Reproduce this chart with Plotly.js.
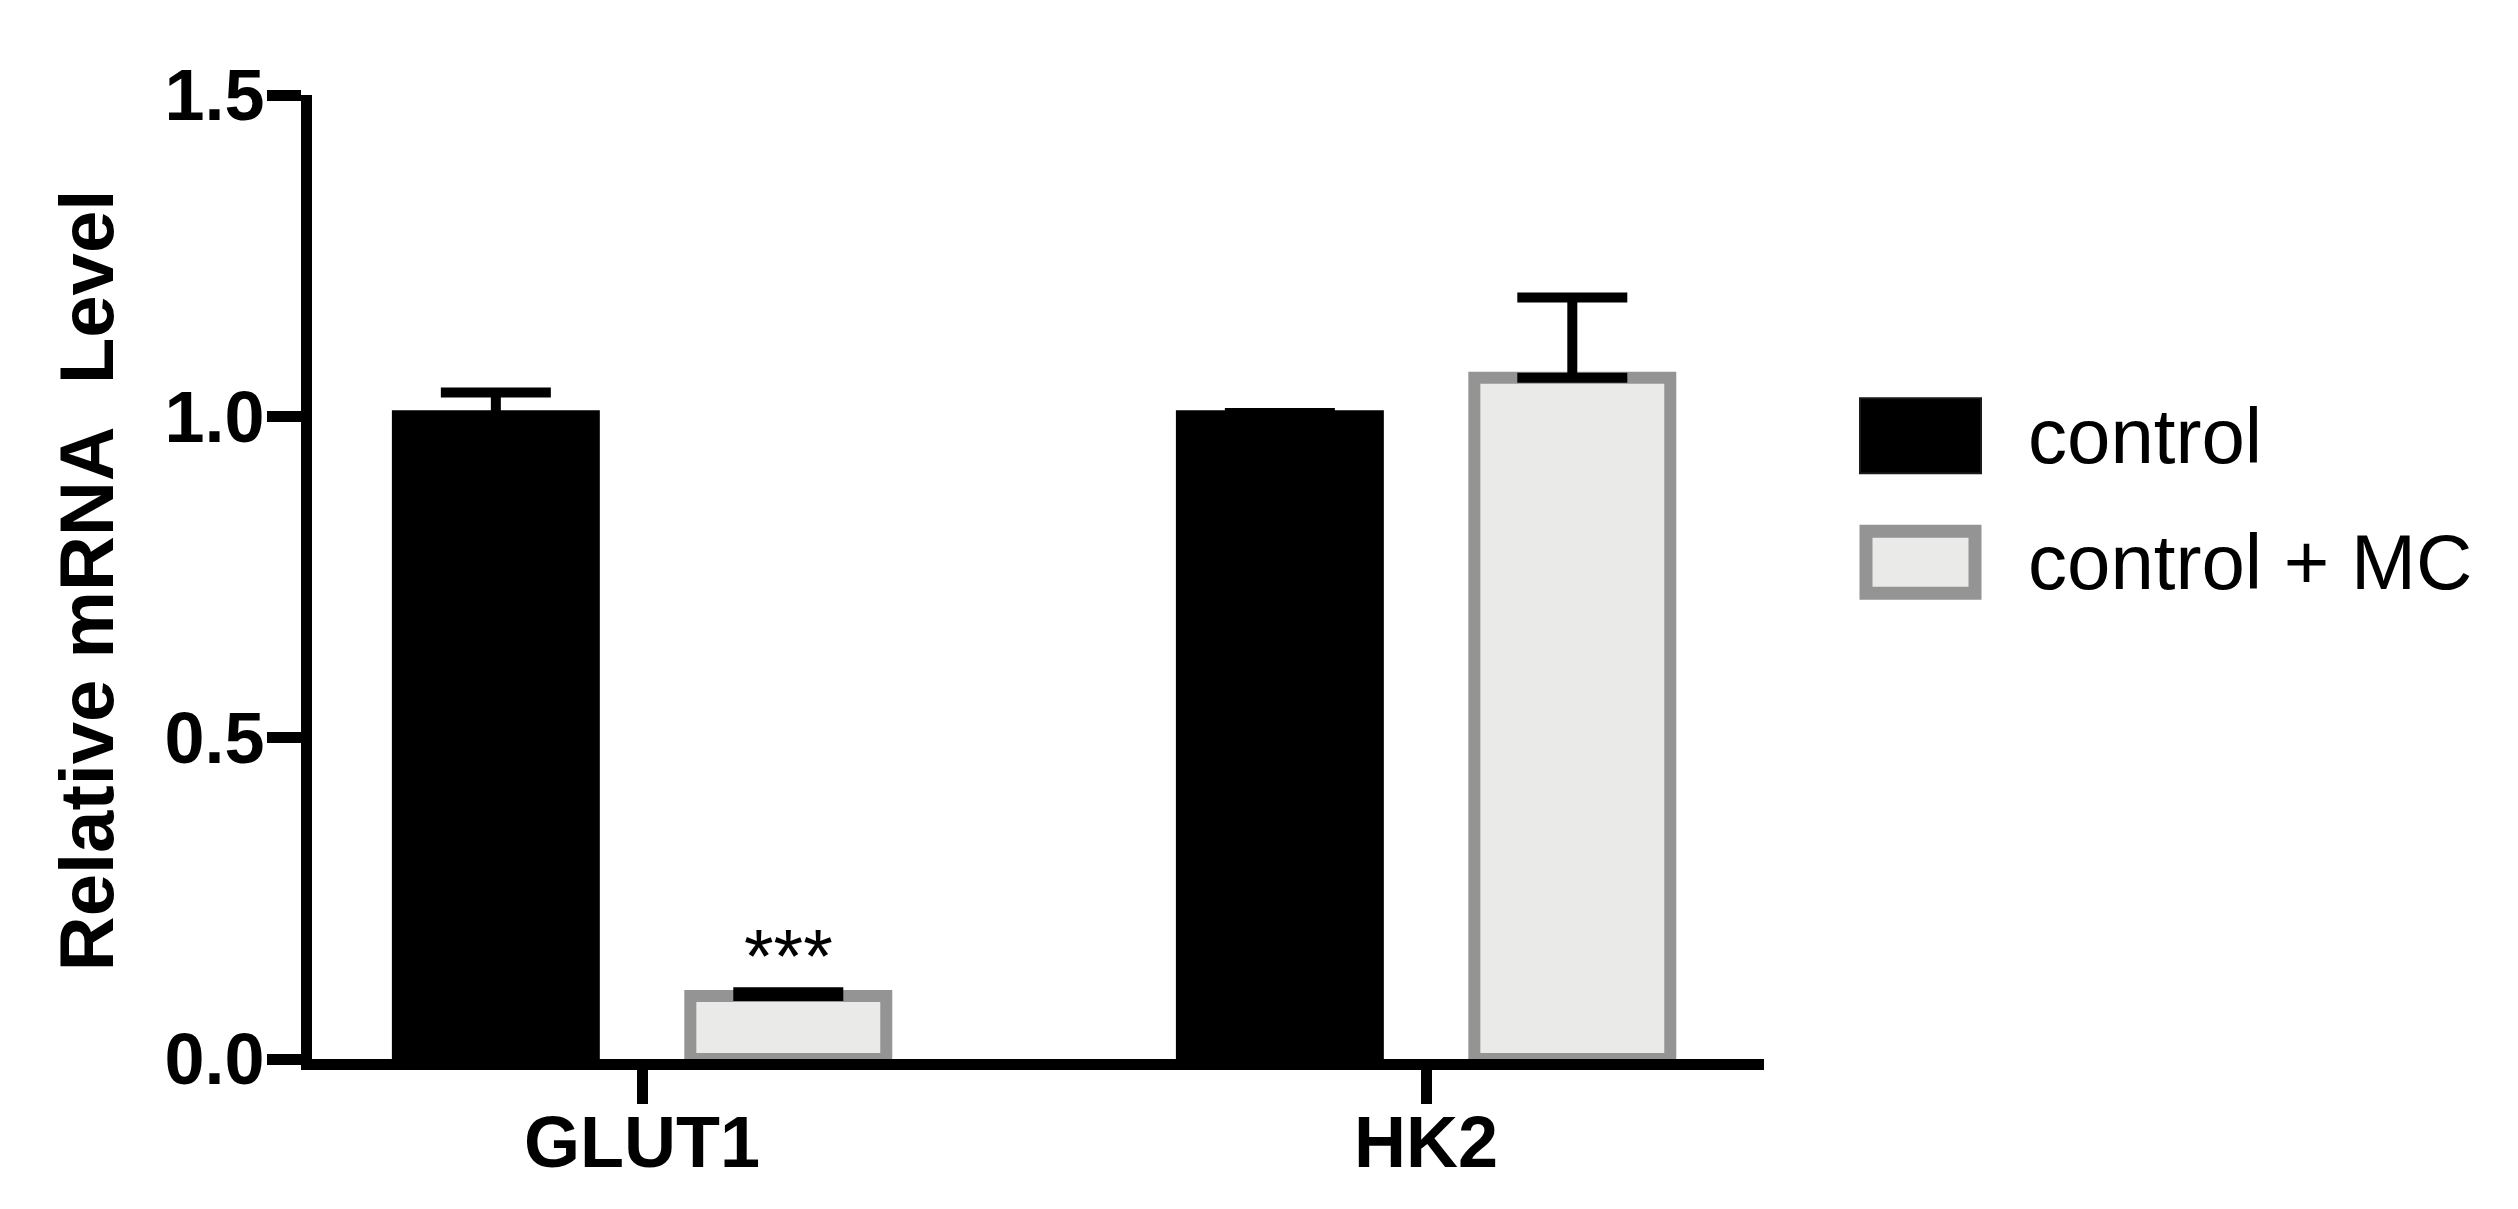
<!DOCTYPE html>
<html>
<head>
<meta charset="utf-8">
<script src="https://cdn.plot.ly/plotly-3.0.1.min.js"></script>
<style>html,body{margin:0;padding:0;background:#fff;}#chart{width:2518px;height:1209px;}</style>
</head>
<body>
<div id="chart"></div>
<script>
// ---- data ----
const categories = ['GLUT1', 'HK2'];
const seriesNames = ['control', 'control + MC'];
const controlValues = [1.0, 1.0];
const controlErrors = [0.037, 0.005];
const mcValues = [0.098, 1.06];
const mcErrors = [0.006, 0.125];
const yTickValues = [0, 0.5, 1.0, 1.5];
const yTickLabels = ['0.0', '0.5', '1.0', '1.5'];
const yTitle = 'Relative mRNA\u00A0\u00A0Level';
const significance = ['***', ''];

// ---- style / geometry ----
const W = 2518, H = 1209;
const L = 312, R = 1764, T = 94.5, B = 1059.2;
const FONT = 'Liberation Sans, Arial, Helvetica, sans-serif';
const BARGAP = 0.254, BARGROUPGAP = 0.33;
const MC_FILL = '#eaeae8', MC_LINE = '#949494';
const px2x = p => (p - L) / (R - L);
const px2y = p => (B - p) / (B - T);

const errStyle = {type: 'data', symmetric: false, color: '#000', thickness: 10, width: 55};

const traces = [
  {
    type: 'bar', name: seriesNames[0], x: categories, y: controlValues,
    marker: {color: '#000', line: {color: '#000', width: 12}},
    error_y: Object.assign({array: controlErrors, arrayminus: controlErrors.map(() => 0)}, errStyle),
    showlegend: false, hoverinfo: 'x+y'
  },
  {
    type: 'bar', name: seriesNames[1], x: categories, y: mcValues,
    marker: {color: MC_FILL, line: {color: MC_LINE, width: 12}},
    error_y: Object.assign({array: mcErrors, arrayminus: mcErrors.map(() => 0)}, errStyle),
    showlegend: false, hoverinfo: 'x+y'
  }
];

// significance stars above the second series
const slot = (1 - BARGAP) / 2;
const annotations = [];
significance.forEach((s, i) => {
  if (!s) return;
  annotations.push({
    xref: 'x', yref: 'y', x: i + slot / 2, y: mcValues[i] + mcErrors[i],
    text: s, showarrow: false, xanchor: 'center', yanchor: 'bottom', yshift: -8,
    font: {family: FONT, size: 76, color: '#000'}
  });
});

// y-axis title
annotations.push({
  xref: 'paper', yref: 'paper', x: px2x(86), y: px2y(581),
  text: yTitle, textangle: -90, showarrow: false, xanchor: 'center', yanchor: 'middle',
  font: {family: FONT, size: 76, color: '#000', weight: 'bold'}
});

// custom legend
const legendBoxes = [
  {x0: 1860, x1: 1981, y0: 398, y1: 473, fill: '#000', line: '#1a1a1a', lw: 2},
  {x0: 1866, x1: 1975, y0: 531, y1: 593, fill: MC_FILL, line: MC_LINE, lw: 13}
];
const shapes = legendBoxes.map(b => ({
  type: 'rect', xref: 'paper', yref: 'paper',
  x0: px2x(b.x0), x1: px2x(b.x1), y0: px2y(b.y1), y1: px2y(b.y0),
  fillcolor: b.fill, line: {color: b.line, width: b.lw}
}));
seriesNames.forEach((n, i) => {
  const b = legendBoxes[i];
  annotations.push({
    xref: 'paper', yref: 'paper', x: px2x(2026), y: px2y((b.y0 + b.y1) / 2),
    text: n, showarrow: false, xanchor: 'left', yanchor: 'middle',
    font: {family: FONT, size: 78, color: '#000'}
  });
});

const layout = {
  width: W, height: H,
  margin: {l: L, r: W - R, t: T, b: H - B, pad: 0},
  paper_bgcolor: '#fff', plot_bgcolor: '#fff',
  barmode: 'group', bargap: BARGAP, bargroupgap: BARGROUPGAP,
  showlegend: false,
  font: {family: FONT, color: '#000'},
  xaxis: {
    type: 'category', range: [-0.421, 1.431],
    showline: true, linecolor: '#000', linewidth: 11,
    ticks: 'outside', ticklen: 34, tickwidth: 11, tickcolor: '#000',
    ticklabelstandoff: -23,
    showgrid: false, zeroline: false,
    tickfont: {family: FONT, size: 72, color: '#000', weight: 'bold'}
  },
  yaxis: {
    range: [0, 1.5], tickvals: yTickValues, ticktext: yTickLabels,
    showline: true, linecolor: '#000', linewidth: 11,
    ticks: 'outside', ticklen: 34, tickwidth: 11, tickcolor: '#000',
    ticklabelstandoff: -12,
    showgrid: false, zeroline: false,
    tickfont: {family: FONT, size: 72, color: '#000', weight: 'bold'}
  },
  annotations: annotations,
  shapes: shapes
};

Plotly.newPlot('chart', traces, layout, {displayModeBar: false, staticPlot: true});
</script>
</body>
</html>
